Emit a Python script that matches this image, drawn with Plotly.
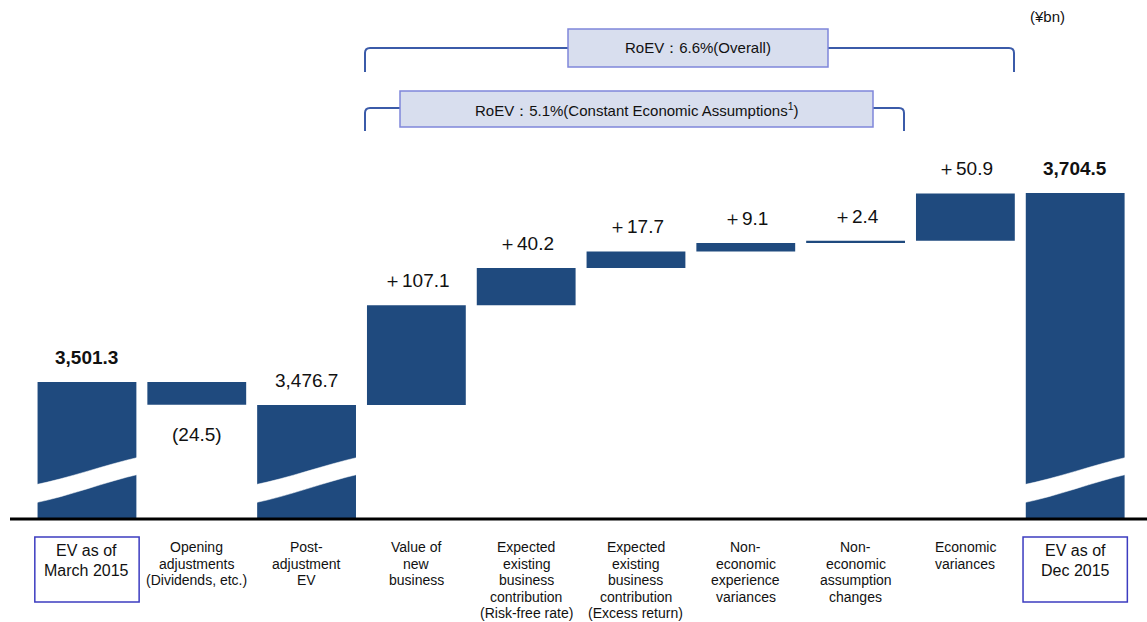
import plotly.graph_objects as go

# ---------------- data ----------------
categories = [
    "EV as of<br>March 2015",
    "Opening<br>adjustments<br>(Dividends, etc.)",
    "Post-<br>adjustment<br>EV",
    "Value of<br>new<br>business",
    "Expected<br>existing<br>business<br>contribution<br>(Risk-free rate)",
    "Expected<br>existing<br>business<br>contribution<br>(Excess return)",
    "Non-<br>economic<br>experience<br>variances",
    "Non-<br>economic<br>assumption<br>changes",
    "Economic<br>variances",
    "EV as of<br>Dec 2015",
]
values = [3501.3, -24.5, 3476.7, 107.1, 40.2, 17.7, 9.1, 2.4, 50.9, 3704.5]
kinds = ["total", "delta", "total", "delta", "delta", "delta", "delta", "delta", "delta", "total"]
value_labels = ["3,501.3", "(24.5)", "3,476.7", "＋107.1", "＋40.2", "＋17.7",
                "＋9.1", "＋2.4", "＋50.9", "3,704.5"]
bold_labels = [True, False, False, False, False, False, False, False, False, True]
boxed_categories = [0, 9]
roev_overall = "RoEV：6.6%(Overall)"
roev_constant = "RoEV：5.1%(Constant Economic Assumptions<sup>1</sup>)"
unit_label = "(¥bn)"

# ---------------- layout constants ----------------
W, H = 1147, 622
ML, MR, MT, MB = 10, 0, 0, 103
PLOT_W = W - ML - MR
PLOT_H = H - MT - MB
Y_MIN, Y_MAX = 3354.0, 3354.0 + PLOT_H / 0.930
X_RANGE = [-0.701, 9.654]
BAR_W = 0.9
FONT = "Arial, 'Liberation Sans', sans-serif"
BAR_COLOR = "#1F4A7E"


def px_x(px):
    return (px - ML) / PLOT_W


def px_y(py):
    return (MT + PLOT_H - py) / PLOT_H


# ---------------- compute waterfall ----------------
bases, heights, tops, bottoms = [], [], [], []
running = 0.0
for v, k in zip(values, kinds):
    if k == "total":
        b, h = Y_MIN, v - Y_MIN
        running = v
    else:
        if v >= 0:
            b, h = running, v
        else:
            b, h = running + v, -v
        running += v
    bases.append(b)
    heights.append(h)
    tops.append(b + h)
    bottoms.append(b)

xs = list(range(len(categories)))

fig = go.Figure()
fig.add_trace(go.Bar(
    x=xs, y=heights, base=bases, width=BAR_W,
    marker=dict(color=BAR_COLOR, line=dict(width=0)),
    hoverinfo="skip", showlegend=False,
))

shapes = []
annotations = []

# break marks on total bars
for i, k in enumerate(kinds):
    if k != "total":
        continue
    xl, xr = i - BAR_W / 2 - 0.03, i + BAR_W / 2 + 0.03
    x1 = xl + (xr - xl) / 3
    x2 = xl + 2 * (xr - xl) / 3
    tl, tr = px_y(485), px_y(457)
    bl, br = px_y(503), px_y(474)
    c1t, c2t = px_y(478), px_y(465)
    c1b, c2b = px_y(496), px_y(482)
    path = (f"M {xl},{tl} C {x1},{c1t} {x2},{c2t} {xr},{tr} "
            f"L {xr},{br} C {x2},{c2b} {x1},{c1b} {xl},{bl} Z")
    shapes.append(dict(type="path", xref="x", yref="paper", path=path,
                       fillcolor="white", line=dict(color="white", width=0.5), layer="above"))

# baseline axis line
shapes.append(dict(type="line", xref="paper", yref="paper", x0=0, x1=1, y0=0, y1=0,
                   line=dict(color="black", width=3)))

# brackets
BR_COLOR = "#3B5BA9"


def bracket(xl, xr, yline, ybot, r=5):
    return (f"M {px_x(xl)},{px_y(ybot)} L {px_x(xl)},{px_y(yline + r)} "
            f"Q {px_x(xl)},{px_y(yline)} {px_x(xl + r)},{px_y(yline)} "
            f"L {px_x(xr - r)},{px_y(yline)} "
            f"Q {px_x(xr)},{px_y(yline)} {px_x(xr)},{px_y(yline + r)} "
            f"L {px_x(xr)},{px_y(ybot)}")


shapes.append(dict(type="path", xref="paper", yref="paper", path=bracket(365, 1014, 48, 72),
                   line=dict(color=BR_COLOR, width=2)))
shapes.append(dict(type="path", xref="paper", yref="paper", path=bracket(365, 904, 108, 131),
                   line=dict(color=BR_COLOR, width=2)))

BOX_FILL = "#D8DEEE"
BOX_LINE = "#7F86DA"
for (x0, y0, x1, y1, txt) in [(568, 29, 828, 67, roev_overall), (400, 91, 873, 127, roev_constant)]:
    shapes.append(dict(type="rect", xref="paper", yref="paper",
                       x0=px_x(x0), x1=px_x(x1), y0=px_y(y1), y1=px_y(y0),
                       fillcolor=BOX_FILL, line=dict(color=BOX_LINE, width=1.5)))
    annotations.append(dict(xref="paper", yref="paper", x=px_x((x0 + x1) / 2), y=px_y((y0 + y1) / 2),
                            text=txt, showarrow=False, xanchor="center", yanchor="middle",
                            font=dict(family=FONT, size=15, color="#111")))

# category label boxes
for i in boxed_categories:
    shapes.append(dict(type="rect", xref="x", yref="paper",
                       x0=i - 0.475, x1=i + 0.475, y0=px_y(602), y1=px_y(537),
                       line=dict(color="#3C3CC0", width=1.5), fillcolor="rgba(0,0,0,0)"))

# category labels (one annotation per line for tight line spacing)
for i, c in enumerate(categories):
    big = i in boxed_categories
    lines = c.split("<br>")
    first = 550 if big else 547
    step = 20 if big else 16.5
    for j, ln in enumerate(lines):
        annotations.append(dict(xref="x", yref="paper", x=i, y=px_y(first + step * j),
                                text=ln, showarrow=False, xanchor="center", yanchor="middle",
                                font=dict(family=FONT, size=16 if big else 14, color="#111")))

# value labels
for i, (lab, b) in enumerate(zip(value_labels, bold_labels)):
    txt = f"<b>{lab}</b>" if b else lab
    if values[i] < 0 and kinds[i] == "delta":
        annotations.append(dict(xref="x", yref="y", x=i, y=bottoms[i], text=txt, showarrow=False,
                                xanchor="center", yanchor="top", yshift=-17,
                                font=dict(family=FONT, size=19, color="#111")))
    else:
        annotations.append(dict(xref="x", yref="y", x=i, y=tops[i], text=txt, showarrow=False,
                                xanchor="center", yanchor="bottom", yshift=12,
                                font=dict(family=FONT, size=19, color="#111")))

annotations.append(dict(xref="paper", yref="paper", x=px_x(1047), y=px_y(17), text=unit_label,
                        showarrow=False, xanchor="center", yanchor="middle",
                        font=dict(family=FONT, size=15, color="#111")))

fig.update_layout(
    width=W, height=H, autosize=False,
    margin=dict(l=ML, r=MR, t=MT, b=MB, pad=0),
    paper_bgcolor="white", plot_bgcolor="white",
    xaxis=dict(range=X_RANGE, showgrid=False, zeroline=False, showticklabels=False,
               ticks="", showline=False, fixedrange=True),
    yaxis=dict(range=[Y_MIN, Y_MAX], showgrid=False, zeroline=False, showticklabels=False,
               ticks="", showline=False, fixedrange=True),
    bargap=0.1,
    shapes=shapes,
    annotations=annotations,
    showlegend=False,
)

fig.write_html("out.html")
